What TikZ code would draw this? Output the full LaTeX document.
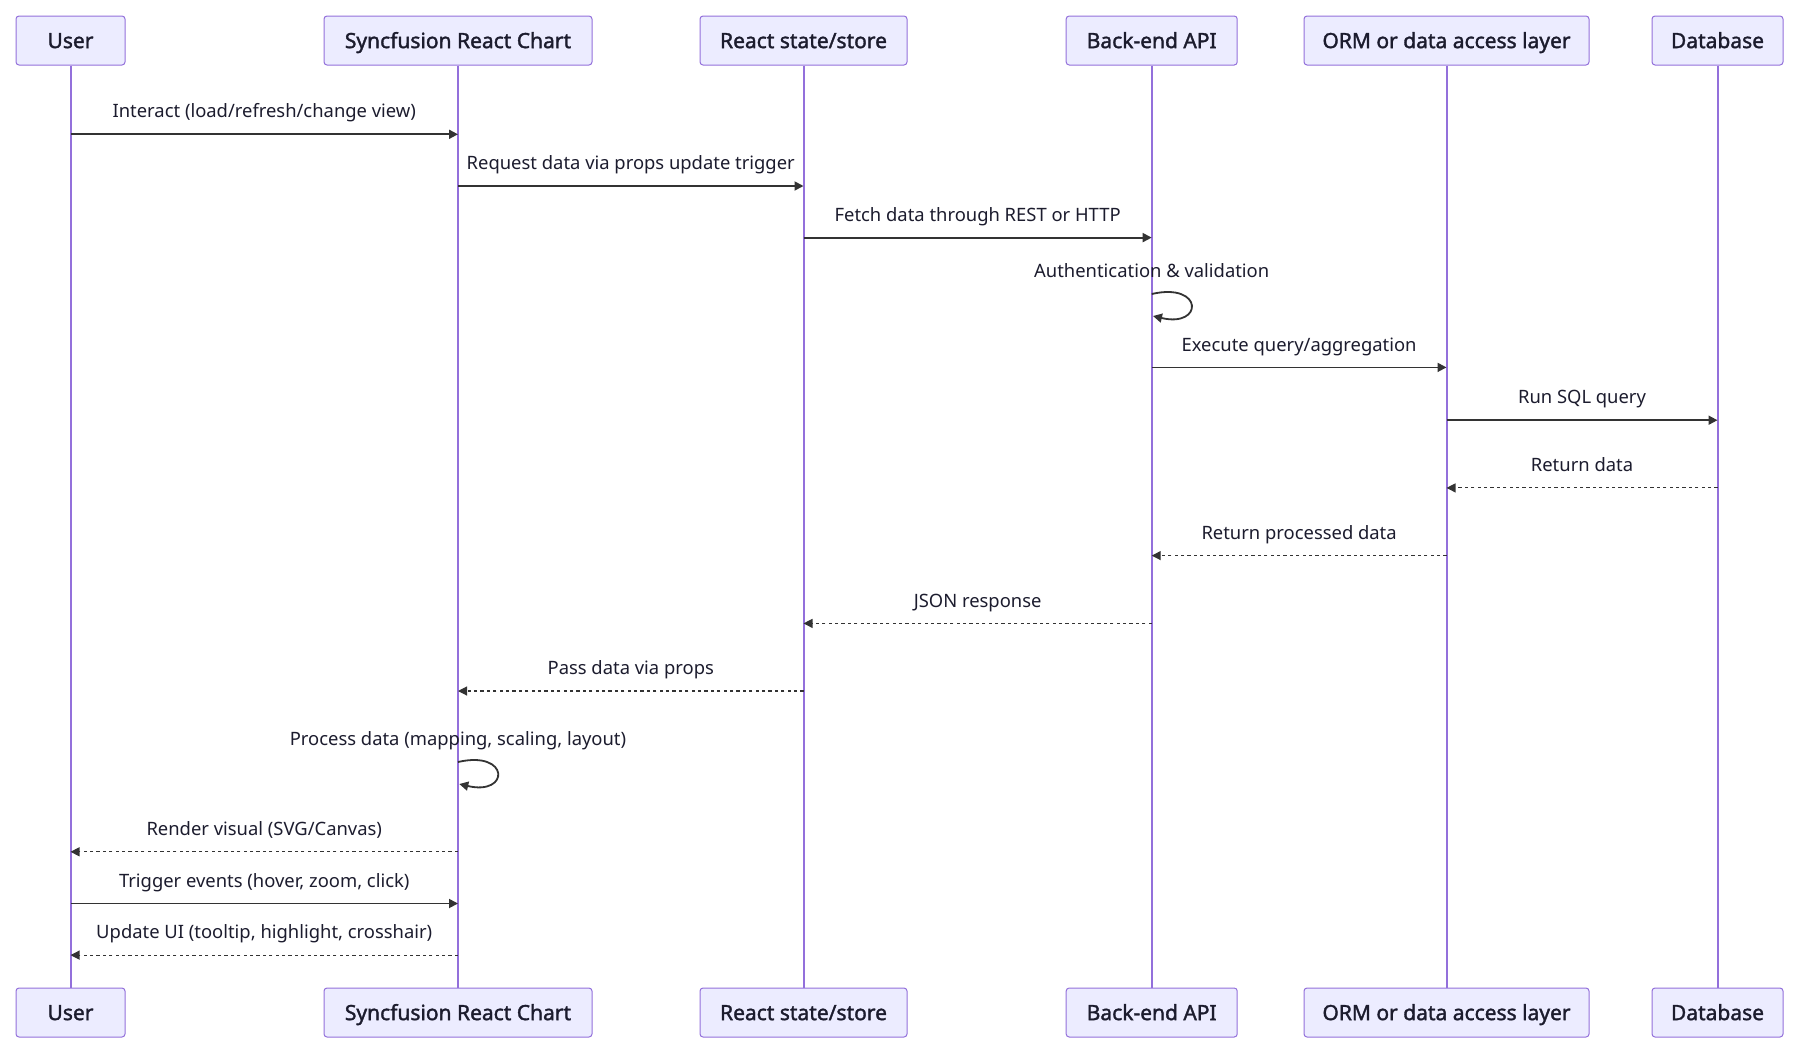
\documentclass[tikz,border=0pt]{standalone}
\usepackage{fontspec}
\setmainfont{Noto Sans}
\newfontfamily\actorfont[FakeBold=1.6]{Noto Sans}
\usepackage{tikz}
\usetikzlibrary{arrows.meta}

\begin{document}
\begin{tikzpicture}[x=0.5pt,y=-0.5pt,
  actor/.style={draw=lineP,fill=boxF,rounded corners=1.5pt,line width=0.5pt,
    minimum height=24.5pt,inner sep=0pt,text height=7.6pt,text depth=0pt,
    text=txt,font=\actorfont\fontsize{10.5}{12}\selectfont},
  life/.style={lineP,line width=1pt},
  call/.style={draw=arr,line width=0.9pt,-{Triangle[length=4.5pt,width=4.5pt]}},
  reply/.style={call,line width=0.55pt,dash pattern=on 1.6pt off 1.6pt},
  lbl/.style={text=txt,font=\fontsize{9.2}{11}\selectfont,inner sep=0pt,anchor=base,yshift=8.2pt}]
\definecolor{boxF}{HTML}{ECECFF}
\definecolor{lineP}{HTML}{9370DB}
\definecolor{arr}{HTML}{333333}
\definecolor{txt}{HTML}{1C1C2E}
\useasboundingbox (0,0) rectangle (1800,1055);
% actors, top and bottom
\node[actor,minimum width=54.5pt] (uT) at (70.5,40.5) {User};
\node[actor,minimum width=134pt] (sT) at (458,40.5) {Syncfusion React Chart};
\node[actor,minimum width=103.5pt] (rT) at (803.5,40.5) {React state/store};
\node[actor,minimum width=85.5pt] (bT) at (1151.7,40.5) {Back-end API};
\node[actor,minimum width=142.5pt] (oT) at (1446.5,40.5) {ORM or data access layer};
\node[actor,minimum width=65.5pt] (dT) at (1717.5,40.5) {Database};
\node[actor,minimum width=54.5pt] (uB) at (70.5,1012.5) {User};
\node[actor,minimum width=134pt] (sB) at (458,1012.5) {Syncfusion React Chart};
\node[actor,minimum width=103.5pt] (rB) at (803.5,1012.5) {React state/store};
\node[actor,minimum width=85.5pt] (bB) at (1151.7,1012.5) {Back-end API};
\node[actor,minimum width=142.5pt] (oB) at (1446.5,1012.5) {ORM or data access layer};
\node[actor,minimum width=65.5pt] (dB) at (1717.5,1012.5) {Database};
% lifelines
\draw[life] (uT) -- (uB);
\draw[life] (sT) -- (sB);
\draw[life] (rT) -- (rB);
\draw[life] (bT) -- (bB);
\draw[life] (oT) -- (oB);
\draw[life] (dT) -- (dB);
% message rows
\coordinate (m1) at (0,134.3);
\coordinate (m2) at (0,186);
\coordinate (m3) at (0,237.6);
\coordinate (m4) at (0,294);
\coordinate (m5) at (0,367.4);
\coordinate (m6) at (0,420.2);
\coordinate (m7) at (0,487.9);
\coordinate (m8) at (0,555.6);
\coordinate (m9) at (0,623.4);
\coordinate (m10) at (0,691);
\coordinate (m11) at (0,762);
\coordinate (m12) at (0,851.8);
\coordinate (m13) at (0,903.5);
\coordinate (m14) at (0,955.1);
% messages
\draw[call] (uT |- m1) -- node[lbl] (l1) {Interact (load/refresh/change view)} (sT |- m1);
\draw[call] (sT |- m2) -- node[lbl] (l2) {Request data via props update trigger} (rT |- m2);
\draw[call] (rT |- m3) -- node[lbl] (l3) {Fetch data through REST or HTTP} (bT |- m3);
\node[lbl] (l4) at (bT |- m4) {Authentication \& validation};
\draw[call] (bT |- m4) .. controls (1203.7,282) and (1203.7,328) .. (1153,316);
\draw[call] (bT |- m5) -- node[lbl] (l5) {Execute query/aggregation} (oT |- m5);
\draw[call] (oT |- m6) -- node[lbl] (l6) {Run SQL query} (dT |- m6);
\draw[reply] (dT |- m7) -- node[lbl] (l7) {Return data} (oT |- m7);
\draw[reply] (oT |- m8) -- node[lbl] (l8) {Return processed data} (bT |- m8);
\draw[reply] (bT |- m9) -- node[lbl] (l9) {JSON response} (rT |- m9);
\draw[reply] (rT |- m10) -- node[lbl] (l10) {Pass data via props} (sT |- m10);
\node[lbl] (l11) at (sT |- m11) {Process data (mapping, scaling, layout)};
\draw[call] (sT |- m11) .. controls (510,750) and (510,796) .. (459.3,784);
\draw[reply] (sT |- m12) -- node[lbl] (l12) {Render visual (SVG/Canvas)} (uT |- m12);
\draw[call] (uT |- m13) -- node[lbl] (l13) {Trigger events (hover, zoom, click)} (sT |- m13);
\draw[reply] (sT |- m14) -- node[lbl] (l14) {Update UI (tooltip, highlight, crosshair)} (uT |- m14);
\end{tikzpicture}
\end{document}
